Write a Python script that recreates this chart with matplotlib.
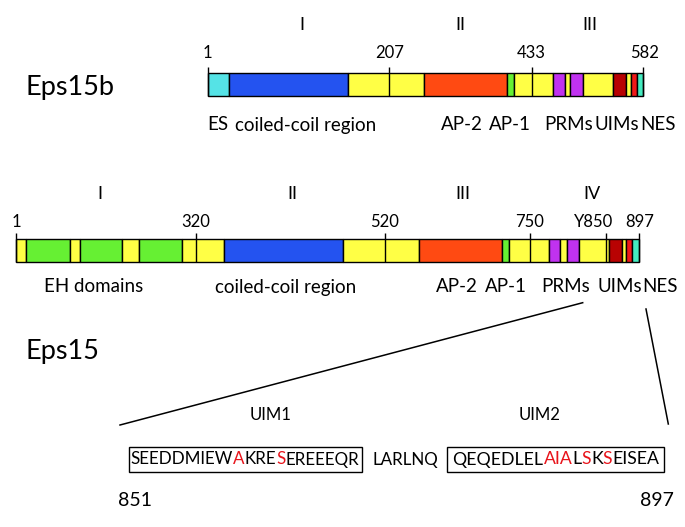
import matplotlib
matplotlib.use('Agg')
import matplotlib.pyplot as plt
from matplotlib.patches import Rectangle

plt.rcParams['font.family'] = 'Lato'

W, H = 685, 527
RED = '#E8141B'

# domain colours
C = {'cyan': '#55E3E6', 'blue': '#2453F0', 'yellow': '#FFFF45', 'orange': '#FF4A12',
     'green': '#66F033', 'purple': '#C032F0', 'darkred': '#B80202', 'red': '#F01818',
     'teal': '#45EBC0'}

# Eps15b (residue boundaries)
eps15b_len = 582
eps15b_edges = [1, 29, 188, 289, 400, 409, 461, 477, 484, 501, 542, 559, 566, 573, 582]
eps15b_cols = ['cyan', 'blue', 'yellow', 'orange', 'green', 'yellow', 'purple', 'yellow',
               'purple', 'yellow', 'darkred', 'yellow', 'red', 'teal']
eps15b_ticks = [1, 243, 433, 582]
eps15b_ticklabels = ['1', '207', '433', '582']
eps15b_ticklabel_pos = [1, 243, 432, 584]
eps15b_regions = ['I', 'II', 'III']
eps15b_region_pos = [126, 338, 511]
eps15b_labels = ['ES', 'coiled-coil region', 'AP-2', 'AP-1', 'PRMs', 'UIMs', 'NES']
eps15b_label_pos = [14, 132, 340, 404, 482, 547, 602]

# Eps15
eps15_len = 897
eps15_edges = [1, 16, 78, 93, 154, 178, 240, 300, 472, 581, 700, 710, 767, 784, 793, 810,
               854, 872, 879, 887, 897]
eps15_cols = ['yellow', 'green', 'yellow', 'green', 'yellow', 'green', 'yellow', 'blue',
              'yellow', 'orange', 'green', 'yellow', 'purple', 'yellow', 'purple', 'yellow',
              'darkred', 'yellow', 'red', 'teal']
eps15_ticks = [1, 260, 531, 740, 849, 897]
eps15_ticklabels = ['1', '320', '520', '750', 'Y850', '897']
eps15_ticklabel_pos = [1, 260, 531, 740, 831, 898]
eps15_regions = ['I', 'II', 'III', 'IV']
eps15_region_pos = [122, 399, 644, 829]
eps15_labels = ['EH domains', 'coiled-coil region', 'AP-2', 'AP-1', 'PRMs', 'UIMs', 'NES']
eps15_label_pos = [112, 389, 635, 706, 791, 869, 927]

# UIM sequences (851-897)
uim1_seq = 'SEEDDMIEWAKRESEREEEQR'
uim1_red = [9, 13]
linker_seq = 'LARLNQ'
uim2_seq = 'QEQEDLELAIALSKSEISEA'
uim2_red = [8, 9, 10, 12, 14]

fig = plt.figure(figsize=(W / 100, H / 100), dpi=100)
ov = fig.add_axes([0, 0, 1, 1])
ov.set_xlim(0, W)
ov.set_ylim(H, 0)
ov.axis('off')


def protein_axes(x_left, x_right, length):
    # full-figure axes in residue units, bar spans x_left..x_right pixels
    s = (x_right - x_left) / (length - 1)
    ax = fig.add_axes([0, 0, 1, 1])
    ax.set_xlim(1 - x_left / s, 1 + (W - x_left) / s)
    ax.set_ylim(H, 0)
    ax.axis('off')
    ax.patch.set_alpha(0)
    return ax


def draw_protein(ax, edges, cols, ticks, ticklabels, tick_lpos, regions, region_pos,
                 labels, label_pos, top, bot, y_num, y_reg, y_lab):
    widths = [b - a for a, b in zip(edges[:-1], edges[1:])]
    ax.barh((top + bot) / 2, widths, left=edges[:-1], height=bot - top,
            color=[C[c] for c in cols], edgecolor='black', linewidth=1.0)
    ax.vlines(ticks, top - 6, bot, color='black', linewidth=1.0)
    for p, t in zip(tick_lpos, ticklabels):
        ax.text(p, y_num, t, ha='center', va='center', fontsize=12)
    for p, t in zip(region_pos, regions):
        ax.text(p, y_reg, t, ha='center', va='center', fontsize=13)
    for p, t in zip(label_pos, labels):
        ax.text(p, y_lab, t, ha='center', va='center', fontsize=13.5)


ax_b = protein_axes(207.7, 643.3, eps15b_len)
draw_protein(ax_b, eps15b_edges, eps15b_cols, eps15b_ticks, eps15b_ticklabels,
             eps15b_ticklabel_pos, eps15b_regions, eps15b_region_pos,
             eps15b_labels, eps15b_label_pos, 73, 96, 53, 25, 125)

ax_e = protein_axes(16, 639, eps15_len)
draw_protein(ax_e, eps15_edges, eps15_cols, eps15_ticks, eps15_ticklabels,
             eps15_ticklabel_pos, eps15_regions, eps15_region_pos,
             eps15_labels, eps15_label_pos, 239.3, 262.3, 221.7, 194, 287)

ov.text(26, 87, 'Eps15b', ha='left', va='center', fontsize=19.5)
ov.text(26, 352, 'Eps15', ha='left', va='center', fontsize=19.5)

# zoom lines to the UIM sequences
ov.plot([582.7, 120], [302.7, 425], color='black', linewidth=1.1)
ov.plot([646, 668.3], [309, 424], color='black', linewidth=1.1)

renderer = fig.canvas.get_renderer()


def text_w(s, size):
    t = ov.text(0, 0, s, fontsize=size)
    w = t.get_window_extent(renderer).width
    t.remove()
    return w


def draw_seq(x0, y, seq, red, target_w):
    size = 10 * target_w / text_w(seq, 10)
    # split into runs of the same colour
    runs = []
    for i, ch in enumerate(seq):
        col = RED if i in red else 'black'
        if runs and runs[-1][2] == col:
            runs[-1][1] += ch
        else:
            runs.append([i, ch, col])
    for start, s, col in runs:
        off = text_w(seq[:start + 1], size) - text_w(seq[start], size)
        ov.text(x0 + off, y, s, color=col, fontsize=size, ha='left', va='center')
    return size


size1 = draw_seq(130.6, 459.5, uim1_seq, uim1_red, 227)
draw_seq(452.6, 459.5, uim2_seq, uim2_red, 203)
ov.text(405.5, 459.5, linker_seq, ha='center', va='center', fontsize=size1)
ov.add_patch(Rectangle((129.3, 446.7), 232.4, 25, fill=False, edgecolor='black', linewidth=1.0))
ov.add_patch(Rectangle((447.3, 446.7), 217, 25.6, fill=False, edgecolor='black', linewidth=1.0))

ov.text(270.7, 415, 'UIM1', ha='center', va='center', fontsize=12)
ov.text(540, 415, 'UIM2', ha='center', va='center', fontsize=12)
ov.text(135, 500, '851', ha='center', va='center', fontsize=14)
ov.text(656.5, 500, '897', ha='center', va='center', fontsize=14)

fig.savefig('out.png', dpi=100)
